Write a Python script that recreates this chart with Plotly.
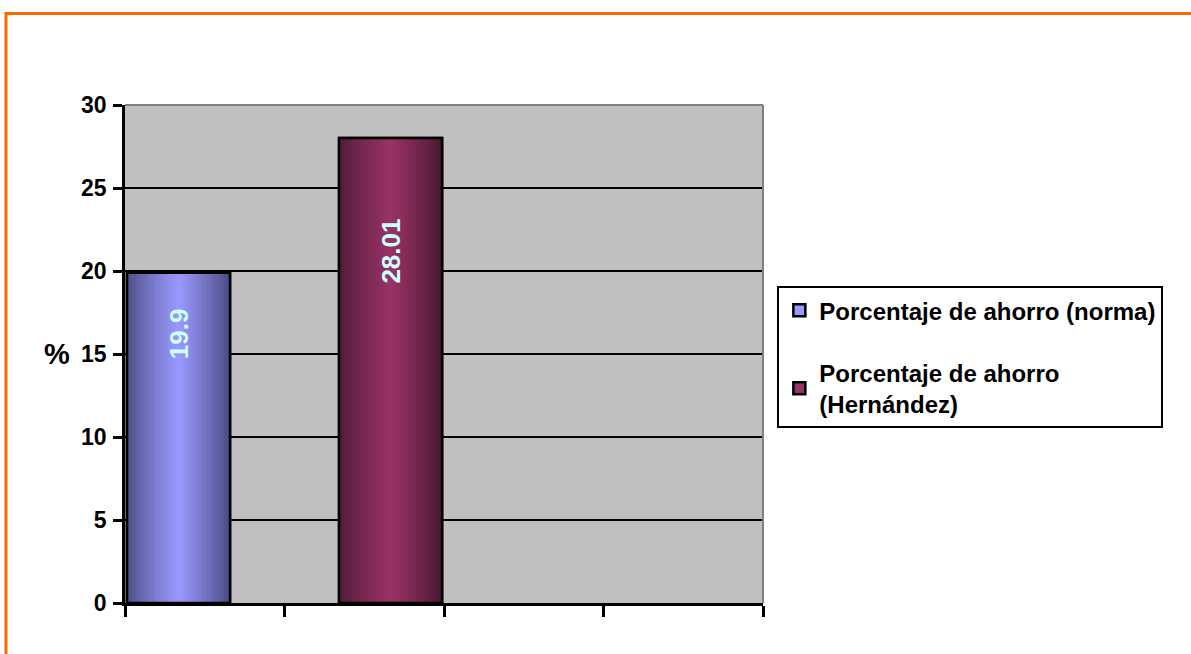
import plotly.graph_objects as go

# ---- data ----
series_names = ["Porcentaje de ahorro (norma)", "Porcentaje de ahorro<br>(Hernández)"]
series_values = [19.9, 28.01]
category_pos = [0, 1]
y_ticks = [0, 5, 10, 15, 20, 25, 30]

# ---- styles ----
base_colors = ["#9999FF", "#993366"]
edge_colors = [("#4A4A7E", "#44447A"), ("#4C1A37", "#43172E")]
bar_offsets = [-0.4875, -0.158]
bar_width = 0.646
label_shift = [-61, -113]
FONT = "Liberation Sans, Arial, sans-serif"


def hex2rgb(h):
    h = h.lstrip("#")
    return tuple(int(h[i:i + 2], 16) for i in (0, 2, 4))


def mix(c1, c2, t):
    a, b = hex2rgb(c1), hex2rgb(c2)
    return "rgb(%d,%d,%d)" % tuple(round(a[i] + (b[i] - a[i]) * t) for i in range(3))


fig = go.Figure()

# legend-carrying full bars
for i in range(2):
    fig.add_trace(go.Bar(
        x=[category_pos[i]], y=[series_values[i]], name=series_names[i],
        offset=bar_offsets[i], width=bar_width,
        marker=dict(color=base_colors[i], line=dict(color="black", width=2.5)),
        legendgroup="g%d" % i, showlegend=True, hoverinfo="skip",
    ))

# gradient strips
N = 40
for k in range(N):
    t = (k + 0.5) / N
    cols = []
    for i in range(2):
        if t < 0.5:
            u = t / 0.5
            cols.append(mix(edge_colors[i][0], base_colors[i], u ** 0.8))
        else:
            u = (1 - t) / 0.5
            cols.append(mix(edge_colors[i][1], base_colors[i], u ** 0.8))
    sw = bar_width / N
    fig.add_trace(go.Bar(
        x=category_pos, y=series_values,
        offset=[bar_offsets[i] + k * sw for i in range(2)],
        width=[sw * 1.15] * 2,
        marker=dict(color=cols, line=dict(width=0)),
        showlegend=False, hoverinfo="skip",
    ))

# outlines on top
fig.add_trace(go.Bar(
    x=category_pos, y=series_values,
    offset=bar_offsets, width=[bar_width] * 2,
    marker=dict(color="rgba(0,0,0,0)", line=dict(color="black", width=2.5)),
    showlegend=False, hoverinfo="skip",
))

# data labels
for i in range(2):
    fig.add_annotation(
        x=category_pos[i] + bar_offsets[i] + bar_width / 2, y=series_values[i],
        xref="x", yref="y", text="<b>%s</b>" % series_values[i],
        textangle=-90, showarrow=False, yanchor="middle", xanchor="center",
        yshift=label_shift[i],
        font=dict(family=FONT, size=26, color="#CCFFFF"),
    )

# % label
fig.add_annotation(
    x=-0.107, y=0.50, xref="paper", yref="paper", text="<b>%</b>",
    showarrow=False, xanchor="center", yanchor="middle",
    font=dict(family=FONT, size=29, color="black"),
)

# orange frame
fig.add_shape(type="rect", xref="paper", yref="paper",
              x0=-0.1865, x1=2.0, y0=-1.0, y1=1.1837,
              line=dict(color="#FF6600", width=3), layer="above")
# top & right gray borders of plot area
fig.add_shape(type="line", xref="paper", yref="paper", x0=0, x1=1, y0=1, y1=1,
              line=dict(color="#808080", width=2), layer="above")
fig.add_shape(type="line", xref="paper", yref="paper", x0=1, x1=1, y0=0, y1=1,
              line=dict(color="#808080", width=2), layer="above")

fig.update_layout(
    width=1191, height=654,
    margin=dict(l=125, r=428, t=105, b=51),
    paper_bgcolor="white", plot_bgcolor="#C0C0C0",
    barmode="overlay",
    font=dict(family=FONT, color="black"),
    legend=dict(
        x=1.0225, y=0.636, xanchor="left", yanchor="top",
        bordercolor="black", borderwidth=2, bgcolor="white",
        font=dict(family=FONT, size=24, color="black", weight="bold"),
        traceorder="grouped", tracegroupgap=28,
    ),
    xaxis=dict(
        range=[-0.5, 3.5], tickvals=[-0.5, 0.5, 1.5, 2.5, 3.5],
        showticklabels=False, ticks="outside", ticklen=11, tickwidth=2.5,
        tickcolor="black", showgrid=False, showline=True, linecolor="black",
        linewidth=2.5, zeroline=False, fixedrange=True,
    ),
    yaxis=dict(
        range=[0, 30], tickvals=y_ticks, ticks="outside", ticklen=9,
        tickwidth=2.5, tickcolor="black", showline=True, linecolor="black",
        linewidth=2.5, showgrid=True, gridcolor="black", gridwidth=2,
        zeroline=False, ticklabelstandoff=2,
        tickfont=dict(family=FONT, size=23, color="black", weight="bold"),
        fixedrange=True,
    ),
)

fig.write_html("out.html", config={"displayModeBar": False},
               post_script="document.body.style.margin='0px';")
